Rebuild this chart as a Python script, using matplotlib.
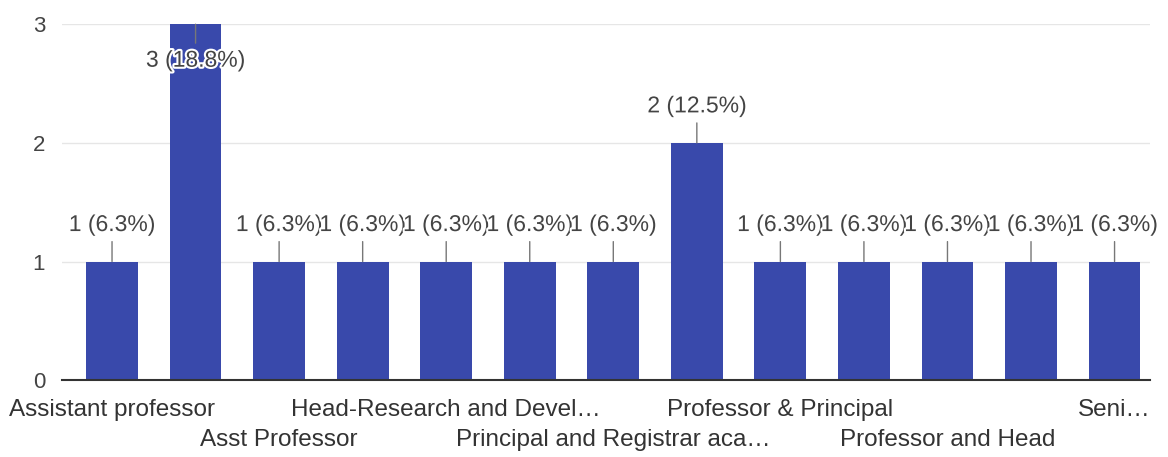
import matplotlib.pyplot as plt
import matplotlib.patheffects as pe
import numpy as np
from decimal import Decimal, ROUND_HALF_UP

plt.rcParams['font.family'] = ['Liberation Sans', 'DejaVu Sans']

# responses per designation (13 categories, only every other label is shown)
counts = [1, 3, 1, 1, 1, 1, 1, 2, 1, 1, 1, 1, 1]
tick_labels = ["Assistant professor", "", "Asst Professor", "",
               "Head-Research and Devel…", "", "Principal and Registrar aca…", "",
               "Professor & Principal", "", "Professor and Head", "", "Seni…"]
yticks = [0, 1, 2, 3]

total = sum(counts)
x = np.arange(len(counts))

fig = plt.figure(figsize=(11.68, 4.57), dpi=100)
ax = fig.add_axes([0.053, 0.168, 0.932, 0.779])

ax.bar(x, counts, width=0.62, color='#3949ab', zorder=2)

ax.set_xlim(-0.6, len(counts) - 0.57)
ax.set_ylim(0, 3)
ax.set_yticks(yticks)
ax.set_yticklabels([str(t) for t in yticks])
ax.yaxis.grid(True, color='#e6e6e6', lw=1, zorder=0)
ax.set_axisbelow(True)

for s in ['top', 'right', 'left']:
    ax.spines[s].set_visible(False)
ax.spines['bottom'].set_color('#333333')
ax.spines['bottom'].set_linewidth(1.5)
ax.tick_params(axis='y', length=0, pad=12, labelsize=16, labelcolor='#444444')
ax.set_xticks([])

# category labels in two alternating rows
for i, lab in enumerate(tick_labels):
    if not lab:
        continue
    off = -30 if i % 4 == 0 else -60
    ax.annotate(lab, xy=(i, 0), xytext=(0, off), textcoords='offset pixels',
                ha='center', va='center', fontsize=17.5, color='#333333',
                annotation_clip=False)

halo = [pe.withStroke(linewidth=3, foreground='white')]
for i, c in enumerate(counts):
    pct = Decimal(c * 100) / Decimal(total)
    pct = pct.quantize(Decimal('0.1'), rounding=ROUND_HALF_UP)
    txt = f"{c} ({pct}%)"
    off = -36 if c == max(yticks) else 37
    t = ax.annotate(txt, xy=(i, c), xytext=(0, off), textcoords='offset pixels',
                    ha='center', va='center', fontsize=16.5, color='#444444',
                    arrowprops=dict(arrowstyle='-', color='#777777', lw=1,
                                    shrinkA=2, shrinkB=0), zorder=3 + i)
    t.set_path_effects(halo)

fig.savefig('out.png', dpi=100)
